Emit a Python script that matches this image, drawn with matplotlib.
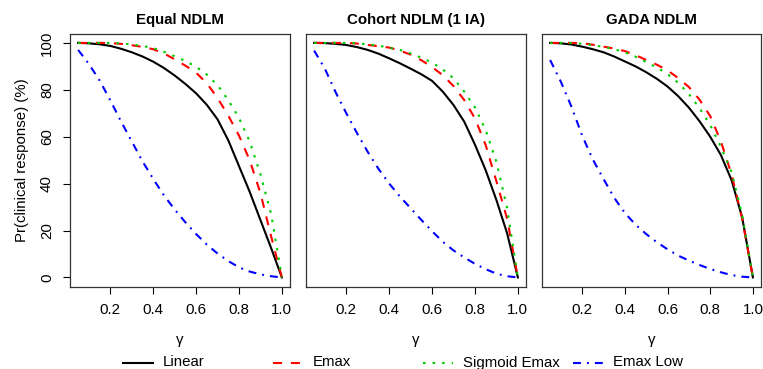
import matplotlib
matplotlib.use('agg')
import matplotlib.pyplot as plt
from matplotlib.lines import Line2D

plt.rcParams['font.family'] = ['Liberation Sans', 'DejaVu Sans']

# gamma grid shared by all curves
GAMMA = [0.05, 0.10, 0.15, 0.20, 0.25, 0.30, 0.35, 0.40, 0.45, 0.50,
         0.55, 0.60, 0.65, 0.70, 0.75, 0.80, 0.85, 0.90, 0.95, 1.00]

TITLES = ['Equal NDLM', 'Cohort NDLM (1 IA)', 'GADA NDLM']
SCENARIOS = ['Linear', 'Emax', 'Sigmoid Emax', 'Emax Low']

# Pr(clinical response) in %
linear_equal = [100, 99.8, 99.4, 98.7, 97.5, 96, 94.2, 92, 89.3, 86.1,
                82.5, 78.5, 73.6, 67.4, 58.5, 47.5, 36.5, 24.5, 12.5, 0]
emax_equal = [100, 100, 100, 99.9, 99.6, 99, 98.3, 97.3, 95.5, 93,
              90.3, 87.3, 82.8, 76.5, 69, 60.5, 50, 36, 17.5, 0]
sigmoid_equal = [100, 100, 100, 100, 99.8, 99.3, 98.7, 97.8, 96.2, 94.3,
                 92.3, 89.8, 86.5, 82, 75.6, 68, 58, 44, 27, 0]
low_equal = [97, 91, 84, 75.5, 66.5, 58, 49.5, 42, 35, 29,
             23.5, 18.5, 14, 10.2, 7, 4.3, 2.5, 1.3, 0.5, 0]

linear_cohort = [100, 99.9, 99.6, 99.1, 98.2, 97, 95.4, 93.4, 91.3, 89,
                 86.6, 83.8, 79.2, 73.5, 66.4, 56.6, 45.7, 33, 18.8, 0]
emax_cohort = [100, 100, 100, 100, 99.7, 99.1, 98.6, 98, 96.7, 95,
               92.6, 89.7, 86.2, 81.6, 75.6, 67.8, 56.4, 41, 25, 0]
sigmoid_cohort = [100, 100, 100, 100, 99.8, 99.4, 98.8, 98, 97, 95.5,
                  93.7, 91.6, 88.7, 84.9, 79.2, 72.5, 62.8, 49.3, 29.5, 0]
low_cohort = [96.7, 89, 79, 70, 61.5, 53.5, 46.3, 40, 34.5, 29.5,
              24.5, 19.7, 15.2, 11.5, 8.5, 5.8, 3.5, 1.6, 0.5, 0]

linear_gada = [100, 99.8, 99.3, 98.4, 97.3, 96, 94.2, 92.1, 90, 87.5,
               84.7, 81.4, 77.3, 72.4, 66.6, 60, 52.2, 41.5, 25.5, 0]
emax_gada = [100, 100, 100, 99.9, 99.2, 98.4, 97.6, 96.5, 94.8, 92.7,
             90.7, 88.3, 85, 81.2, 75.8, 68.8, 58, 44, 25, 0]
sigmoid_gada = [100, 100, 99.9, 99.6, 99, 98.3, 97.3, 96, 94.1, 91.8,
                89.5, 86.7, 83, 78.2, 72.2, 65, 55.7, 45, 26.5, 0]
low_gada = [92.7, 83.5, 72.8, 60.5, 50.3, 42, 34, 27.5, 22.5, 18.5,
            15, 12, 9.3, 7.2, 5.3, 3.6, 2.2, 1.0, 0.3, 0]

PANELS = [
    [linear_equal, emax_equal, sigmoid_equal, low_equal],
    [linear_cohort, emax_cohort, sigmoid_cohort, low_cohort],
    [linear_gada, emax_gada, sigmoid_gada, low_gada],
]

LW = 1.5
STYLES = [
    dict(color='black', linestyle='-'),
    dict(color='#ff0000', linestyle=(0, (4.3, 4.3))),
    dict(color='#00cd00', linestyle=(0, (1.2, 3.4))),
    dict(color='#0000ff', linestyle=(0, (3.8, 2.9, 0.9, 2.9))),
]

W, H = 763, 369
FS = 10.8

fig = plt.figure(figsize=(W / 100, H / 100), dpi=100)

# panel boxes in pixels: left, right
BOXES = [(70, 290), (306, 526), (542, 761)]
TOP, BOTTOM = 33.5, 286.8

for i, (x0, x1) in enumerate(BOXES):
    ax = fig.add_axes([x0 / W, 1 - BOTTOM / H, (x1 - x0) / W, (BOTTOM - TOP) / H])
    for vals, st in zip(PANELS[i], STYLES):
        ax.plot(GAMMA, vals, lw=LW, **st)
    ax.set_xlim(0.012, 1.038)
    ax.set_ylim(-4, 104)
    ax.set_xticks([0.2, 0.4, 0.6, 0.8, 1.0])
    ax.set_xticklabels(['0.2', '0.4', '0.6', '0.8', '1.0'])
    ax.tick_params(axis='x', length=5, width=0.8, pad=6.5, labelsize=FS)
    if i == 0:
        ax.set_yticks([0, 20, 40, 60, 80, 100])
        ax.set_yticklabels(['0', '20', '40', '60', '80', '100'],
                           rotation=90, va='center')
        ax.tick_params(axis='y', length=5, width=0.8, pad=6.5, labelsize=FS)
        ax.set_ylabel('Pr(clinical response) (%)', fontsize=FS, labelpad=8)
    else:
        ax.set_yticks([])
    for sp in ax.spines.values():
        sp.set_linewidth(0.9)
        sp.set_color('#333333')
    ax.set_title(TITLES[i], fontsize=FS, fontweight='bold', pad=7)
    ax.set_xlabel('γ', fontsize=FS, labelpad=12)

# legend along the bottom, one row
LEG_Y = 1 - 362.5 / H
for k, (name, st) in enumerate(zip(SCENARIOS, STYLES)):
    lx = 123 + 150 * k
    fig.add_artist(Line2D([lx / W, (lx + 30) / W], [LEG_Y, LEG_Y],
                          transform=fig.transFigure, lw=LW, **st))
    fig.text((lx + 40) / W, LEG_Y, name, fontsize=FS, va='center', ha='left')

fig.savefig('out.png', dpi=100)
